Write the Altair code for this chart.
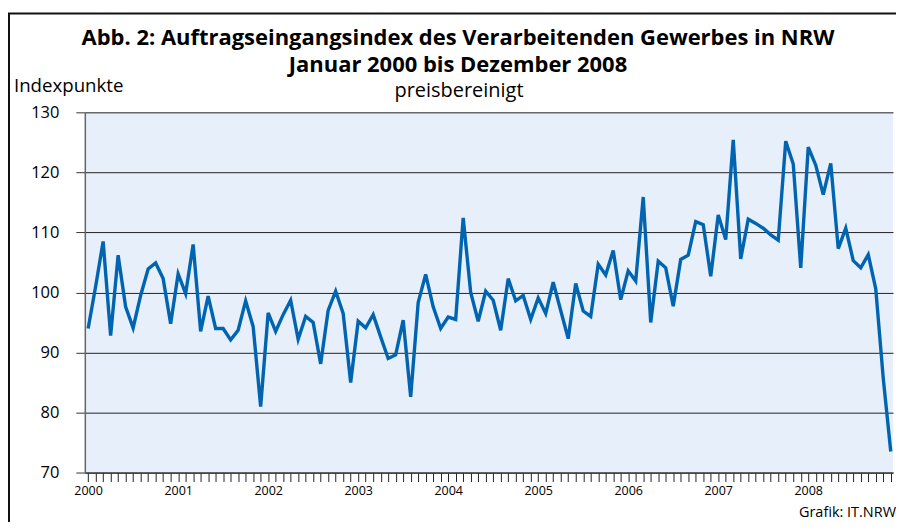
import altair as alt
import pandas as pd

# Auftragseingangsindex (preisbereinigt), monthly values per year
v2000 = [94.0, 101.0, 108.5, 92.8, 106.2, 97.6, 94.1, 99.5, 103.9, 104.9, 102.3, 94.8]
v2001 = [103.1, 99.8, 108.0, 93.5, 99.4, 94.0, 94.0, 92.1, 93.7, 98.6, 94.3, 81.0]
v2002 = [96.6, 93.5, 96.3, 98.7, 92.2, 96.0, 95.0, 88.1, 97.0, 100.2, 96.5, 85.0]
v2003 = [95.2, 94.1, 96.3, 92.6, 89.0, 89.6, 95.4, 82.6, 98.3, 103.0, 97.6, 94.0]
v2004 = [95.9, 95.5, 112.4, 100.0, 95.2, 100.2, 98.7, 93.7, 102.3, 98.6, 99.5, 95.5]
v2005 = [99.1, 96.5, 101.7, 97.0, 92.3, 101.5, 96.9, 96.0, 104.7, 102.9, 107.0, 98.8]
v2006 = [103.6, 101.9, 115.9, 95.0, 105.2, 104.1, 97.7, 105.5, 106.2, 111.8, 111.3, 102.7]
v2007 = [112.9, 108.8, 125.4, 105.6, 112.2, 111.5, 110.7, 109.6, 108.7, 125.2, 121.4, 104.1]
v2008 = [124.2, 121.2, 116.3, 121.5, 107.3, 110.7, 105.3, 104.1, 106.3, 100.6, 85.7, 73.5]

years = [2000, 2001, 2002, 2003, 2004, 2005, 2006, 2007, 2008]
y_ticks = [70, 80, 90, 100, 110, 120, 130]

values = v2000 + v2001 + v2002 + v2003 + v2004 + v2005 + v2006 + v2007 + v2008
df = pd.DataFrame({"t": list(range(len(values))), "v": values})

month_ticks = list(range(len(values)))
label_expr = ("datum.value % 12 == 0 ? toString(" + str(years[0]) +
              " + datum.value / 12) : ''")

W, H = 810, 361
font = "Open Sans"

line = alt.Chart(df).mark_line(color="#0064b1", strokeWidth=3.4, strokeJoin="miter").encode(
    x=alt.X("t:Q",
            scale=alt.Scale(domain=[-0.44, 107.3], nice=False, zero=False),
            axis=alt.Axis(values=month_ticks, labelExpr=label_expr, title=None,
                          grid=False, tickSize=9, tickColor="#222", tickWidth=1,
                          domainColor="#333", domainWidth=1.2,
                          labelFontSize=12.5, labelColor="#000", labelFont=font,
                          labelPadding=3, labelOverlap=False, labelFlush=False)),
    y=alt.Y("v:Q",
            scale=alt.Scale(domain=[70, 130], nice=False, zero=False),
            axis=alt.Axis(values=y_ticks, title=None, grid=True, gridColor="#222",
                          gridWidth=1, tickSize=9, tickColor="#333", domainColor="#666",
                          domainWidth=1.5, labelFontSize=16.5, labelColor="#000",
                          labelFont=font, labelPadding=17)),
)

def txt(text, x, y, size, weight="normal", align="center"):
    return alt.Chart(pd.DataFrame({"s": [text]})).mark_text(
        fontSize=size, fontWeight=weight, font=font, align=align,
        baseline="alphabetic", color="#000"
    ).encode(text="s:N", x=alt.value(x), y=alt.value(y))

t1 = txt("Abb. 2: Auftragseingangsindex des Verarbeitenden Gewerbes in NRW", 374, -67, 22, "bold")
t2 = txt("Januar 2000 bis Dezember 2008", 374, -40, 22, "bold")
t3 = txt("preisbereinigt", 375, -15, 20)
t4 = txt("Indexpunkte", -71, -20, 18.7, align="left")
t5 = txt("Grafik: IT.NRW", 813, 406, 14.5, align="right")

frame_v = alt.Chart(pd.DataFrame({"a": [0]})).mark_rule(color="#111", strokeWidth=2).encode(
    x=alt.value(-76), y=alt.value(-99), y2=alt.value(420))
frame_h = alt.Chart(pd.DataFrame({"a": [0]})).mark_rule(color="#111", strokeWidth=2).encode(
    x=alt.value(-77), x2=alt.value(830), y=alt.value(-99))

chart = alt.layer(frame_v, frame_h, line, t1, t2, t3, t4, t5).properties(
    width=W, height=H,
    autosize=alt.AutoSizeParams(type="none"),
    padding={"left": 77, "top": 104, "right": 3, "bottom": 49},
    background="white",
).configure_view(fill="#e7f0fa", stroke=None)

chart.save("out.html", embed_options={"renderer": "svg", "actions": False})
